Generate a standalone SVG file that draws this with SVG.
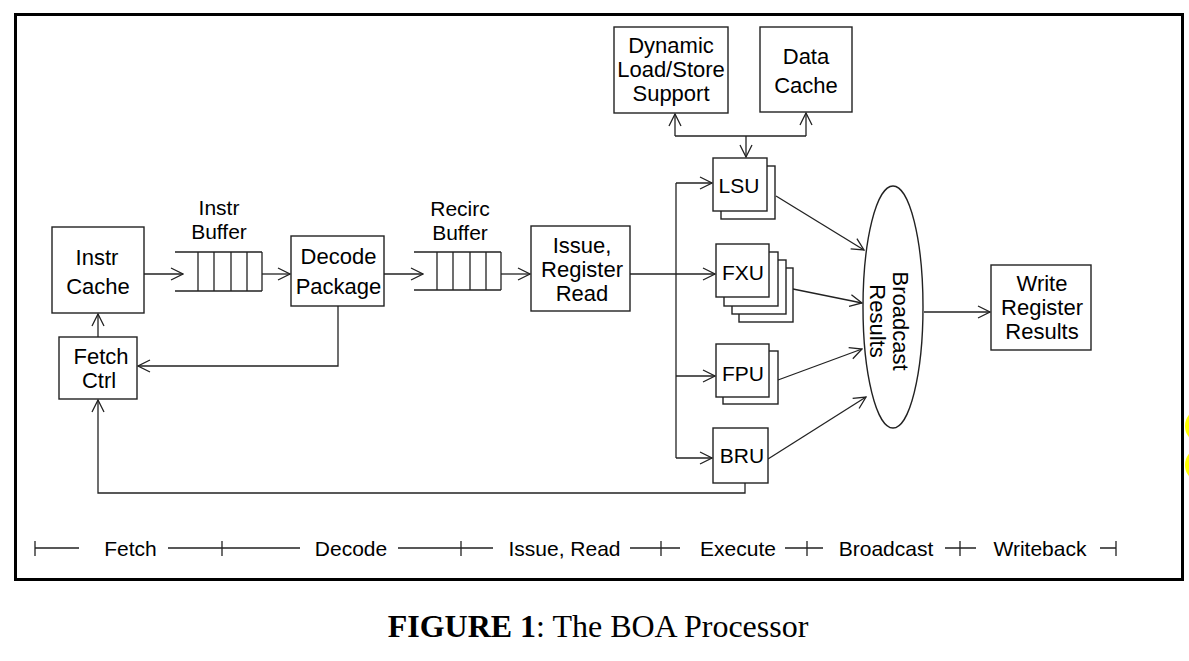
<svg xmlns="http://www.w3.org/2000/svg" width="1189" height="661" viewBox="0 0 1189 661">
<style>
.b{fill:#fff;stroke:#222;stroke-width:1.4}
.l{fill:none;stroke:#222;stroke-width:1.3}
.t{font-family:"Liberation Sans",Arial,sans-serif;font-size:22px;fill:#000;text-anchor:middle}
.u{font-family:"Liberation Sans",Arial,sans-serif;font-size:21px;fill:#000;text-anchor:middle}
.c{font-family:"Liberation Serif","Times New Roman",serif;font-size:32px;fill:#000;text-anchor:middle}
</style>
<defs>
<marker id="a" viewBox="0 0 14 14" refX="13" refY="7" markerWidth="14" markerHeight="14" markerUnits="userSpaceOnUse" orient="auto">
<path d="M1,1 L13,7 L1,13" fill="none" stroke="#222" stroke-width="1.3"/>
</marker>
</defs>
<rect x="0" y="0" width="1189" height="661" fill="#fff"/>
<rect x="15.5" y="14.5" width="1167" height="565" fill="none" stroke="#000" stroke-width="3"/>
<ellipse cx="1197" cy="426" rx="12" ry="15" fill="#ffff00"/>
<ellipse cx="1197" cy="465" rx="12" ry="15" fill="#ffff00"/>

<g id="connectors" class="l">
<path d="M144,274 H183" marker-end="url(#a)"/>
<path d="M262,274 H290" marker-end="url(#a)"/>
<path d="M384,274 H423" marker-end="url(#a)"/>
<path d="M501,274 H530" marker-end="url(#a)"/>
<path d="M338,306 V366 H138" marker-end="url(#a)"/>
<path d="M98,337 V314" marker-end="url(#a)"/>
<path d="M745,483 V493 H98 V400" marker-end="url(#a)"/>
<path d="M630,274 H676"/>
<path d="M676,183 V458"/>
<path d="M676,183 H712" marker-end="url(#a)"/>
<path d="M676,274 H715" marker-end="url(#a)"/>
<path d="M676,376 H715" marker-end="url(#a)"/>
<path d="M676,458 H712" marker-end="url(#a)"/>
<path d="M675,136 H806"/>
<path d="M675,136 V114" marker-end="url(#a)"/>
<path d="M806,136 V113" marker-end="url(#a)"/>
<path d="M746,136 V157" marker-end="url(#a)"/>
<path d="M776,196 L864,250" marker-end="url(#a)"/>
<path d="M793,289 L862,303" marker-end="url(#a)"/>
<path d="M778,380 L862,349" marker-end="url(#a)"/>
<path d="M768,459 L866,397" marker-end="url(#a)"/>
<path d="M924,312 H990" marker-end="url(#a)"/>
</g>

<g id="instr-cache"><rect class="b" x="52" y="227" width="92" height="86"/><text class="t" x="97" y="265">Instr</text><text class="t" x="98" y="294">Cache</text></g>
<g id="fetch-ctrl"><rect class="b" x="59" y="337" width="78" height="62"/><text class="t" x="101" y="364">Fetch</text><text class="t" x="99" y="388">Ctrl</text></g>
<g id="instr-buffer">
<text class="u" x="219" y="215">Instr</text><text class="u" x="219" y="239">Buffer</text>
<path class="l" d="M175,252 H262 M175,291 H262 M198,252 V291 M214,252 V291 M231,252 V291 M247,252 V291 M262,252 V291"/>
</g>
<g id="decode-package"><rect class="b" x="291" y="236" width="93" height="70"/><text class="t" x="338.5" y="264">Decode</text><text class="t" x="338.5" y="294">Package</text></g>
<g id="recirc-buffer">
<text class="u" x="460" y="216">Recirc</text><text class="u" x="460" y="240">Buffer</text>
<path class="l" d="M414,252 H501 M414,290 H501 M437,252 V290 M453,252 V290 M470,252 V290 M486,252 V290 M501,252 V290"/>
</g>
<g id="issue"><rect class="b" x="531" y="226" width="99" height="85"/><text class="t" x="582" y="253">Issue,</text><text class="t" x="582" y="277">Register</text><text class="t" x="582" y="301">Read</text></g>
<g id="dyn-ls"><rect class="b" x="614" y="27" width="114" height="86"/><text class="t" x="671" y="53">Dynamic</text><text class="t" x="671" y="77">Load/Store</text><text class="t" x="671" y="101">Support</text></g>
<g id="data-cache"><rect class="b" x="760" y="27" width="92" height="85"/><text class="t" x="806" y="64">Data</text><text class="t" x="806" y="93">Cache</text></g>
<g id="lsu"><rect class="b" x="721" y="166" width="54" height="53"/><rect class="b" x="713" y="158" width="54" height="53"/><text class="u" x="739" y="193">LSU</text></g>
<g id="fxu"><rect class="b" x="739" y="268" width="54" height="54"/><rect class="b" x="732" y="260" width="54" height="54"/><rect class="b" x="724" y="252" width="54" height="54"/><rect class="b" x="716" y="244" width="53" height="53"/><text class="u" x="743" y="280">FXU</text></g>
<g id="fpu"><rect class="b" x="723" y="351" width="55" height="53"/><rect class="b" x="716" y="344" width="53" height="53"/><text class="u" x="743" y="381">FPU</text></g>
<g id="bru"><rect class="b" x="713" y="428" width="55" height="55"/><text class="u" x="742" y="463">BRU</text></g>
<g id="broadcast"><ellipse class="b" cx="893" cy="307" rx="30" ry="121"/>
<g transform="translate(891,321) rotate(90)"><text class="t" x="0" y="-2">Broadcast</text><text class="t" x="0" y="21">Results</text></g></g>
<g id="write"><rect class="b" x="991" y="265" width="100" height="85"/><text class="t" x="1042" y="291">Write</text><text class="t" x="1042" y="315">Register</text><text class="t" x="1042" y="339">Results</text></g>

<g id="stages">
<path class="l" stroke="#444" d="M35,541 V556 M35,548 H79 M168,548 H300 M222,541 V556 M398,548 H493 M461,541 V556 M630,548 H680 M661,541 V556 M785,548 H823 M807,541 V556 M945,548 H976 M960,541 V556 M1100,548 H1116 M1116,541 V556"/>
<text class="u" x="130.5" y="556">Fetch</text>
<text class="u" x="351" y="556">Decode</text>
<text class="u" x="564.5" y="556">Issue, Read</text>
<text class="u" x="738" y="556">Execute</text>
<text class="u" x="886" y="556">Broadcast</text>
<text class="u" x="1040" y="556">Writeback</text>
</g>
<text class="c" x="598" y="637"><tspan font-weight="bold">FIGURE 1</tspan>: The BOA Processor</text>
</svg>
